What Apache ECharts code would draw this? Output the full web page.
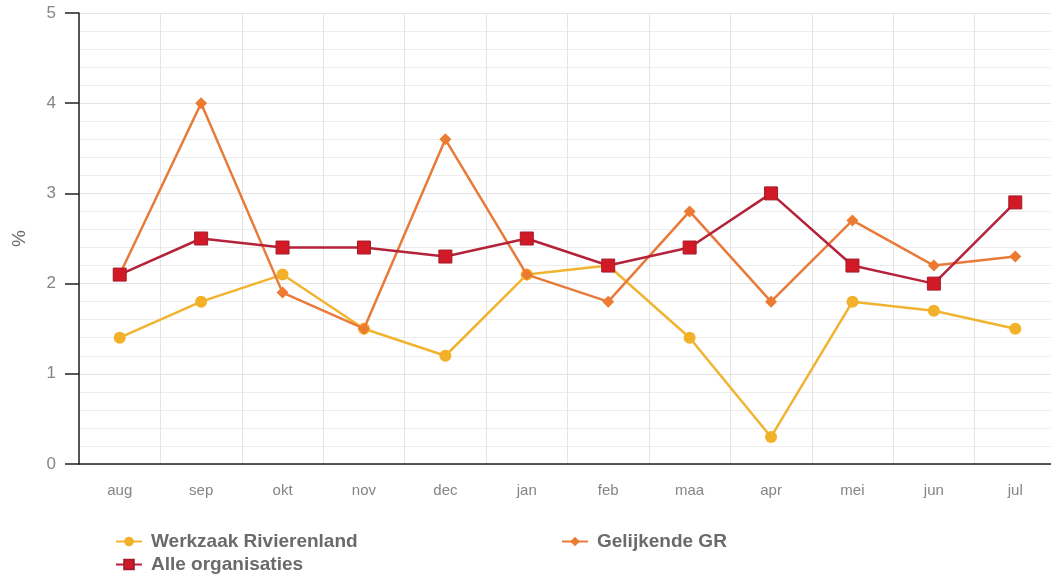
<!DOCTYPE html>
<html>
<head>
<meta charset="utf-8">
<script src="https://cdn.jsdelivr.net/npm/echarts@6/dist/echarts.min.js"></script>
<style>
  html, body { margin: 0; padding: 0; background: #fff; }
  #chart { width: 1051px; height: 574px; }
</style>
</head>
<body>
<div id="chart"></div>
<script>
// Monthly percentages (aug – jul)
const months = ['aug', 'sep', 'okt', 'nov', 'dec', 'jan', 'feb', 'maa', 'apr', 'mei', 'jun', 'jul'];
const werkzaak = [1.4, 1.8, 2.1, 1.5, 1.2, 2.1, 2.2, 1.4, 0.3, 1.8, 1.7, 1.5];
const gelijkende = [2.1, 4.0, 1.9, 1.5, 3.6, 2.1, 1.8, 2.8, 1.8, 2.7, 2.2, 2.3];
const alle = [2.1, 2.5, 2.4, 2.4, 2.3, 2.5, 2.2, 2.4, 3.0, 2.2, 2.0, 2.9];
const yTicks = [0, 1, 2, 3, 4, 5];

const labelFont = 'Liberation Sans, Arial, sans-serif';
const legendText = { color: '#6a6a6a', fontSize: 19, fontWeight: 'bold', fontFamily: labelFont, padding: [0, 0, 0, 4] };

const chart = echarts.init(document.getElementById('chart'), null, { renderer: 'canvas' });

chart.setOption({
  animation: false,
  backgroundColor: '#ffffff',
  // plot area runs slightly past the right edge of the canvas
  grid: { left: 79, top: 13, width: 977, height: 451, containLabel: false, outerBoundsMode: 'none' },
  legend: [
    { data: ['Werkzaak Rivierenland'], left: 110, top: 527, itemWidth: 26, itemHeight: 12, itemGap: 6, textStyle: legendText },
    { data: ['Gelijkende GR'], left: 556, top: 527, itemWidth: 26, itemHeight: 12, itemGap: 6, textStyle: legendText },
    { data: ['Alle organisaties'], left: 110, top: 550, itemWidth: 26, itemHeight: 12, itemGap: 6, textStyle: legendText }
  ],
  xAxis: {
    type: 'category',
    data: months,
    boundaryGap: true,
    axisLine: { show: true, lineStyle: { color: '#222', width: 1.5 } },
    axisTick: { show: false },
    axisLabel: { color: '#858585', fontSize: 15, fontFamily: labelFont, margin: 19 },
    splitLine: { show: true, interval: 0, lineStyle: { color: '#e4e4e4', width: 1 } }
  },
  yAxis: {
    type: 'value',
    min: yTicks[0],
    max: yTicks[yTicks.length - 1],
    interval: 1,
    name: '%',
    nameLocation: 'middle',
    nameRotate: 90,
    nameGap: 50,
    nameTextStyle: { color: '#6a6a6a', fontSize: 19, fontFamily: labelFont },
    axisLine: { show: true, lineStyle: { color: '#222', width: 1.5 } },
    axisTick: { show: true, length: 14, lineStyle: { color: '#222', width: 1.5 } },
    axisLabel: { color: '#858585', fontSize: 17, fontFamily: labelFont, margin: 23 },
    splitLine: { show: true, lineStyle: { color: '#e4e4e4', width: 1 } },
    minorTick: { show: false, splitNumber: 5 },
    minorSplitLine: { show: true, lineStyle: { color: '#ededed', width: 1 } }
  },
  series: [
    {
      name: 'Werkzaak Rivierenland',
      type: 'line',
      data: werkzaak,
      symbol: 'circle',
      symbolSize: 12,
      itemStyle: { color: '#f3b12a' },
      lineStyle: { color: '#f0b431', width: 2.5 },
      z: 2
    },
    {
      name: 'Gelijkende GR',
      type: 'line',
      data: gelijkende,
      symbol: 'diamond',
      symbolSize: 12,
      itemStyle: { color: '#ec7a30' },
      lineStyle: { color: '#e87a3a', width: 2.5 },
      z: 3
    },
    {
      name: 'Alle organisaties',
      type: 'line',
      data: alle,
      symbol: 'rect',
      symbolSize: 13,
      itemStyle: { color: '#d21a26', borderColor: '#a51c2c', borderWidth: 1 },
      lineStyle: { color: '#b5233a', width: 2.5 },
      z: 4
    }
  ]
});
</script>
</body>
</html>
